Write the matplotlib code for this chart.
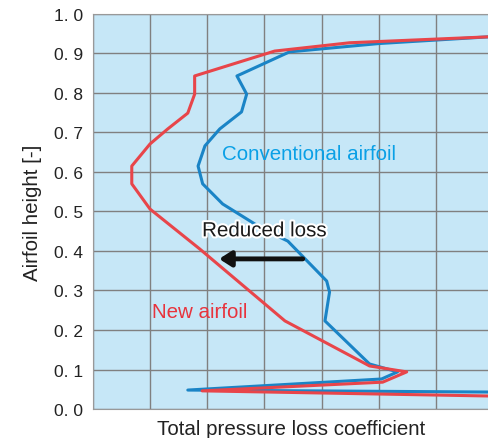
import matplotlib
matplotlib.use("Agg")
import matplotlib.pyplot as plt
import matplotlib.patheffects as pe

# new airfoil (red), read from top to bottom
new_x = [6.92, 4.49, 3.18, 1.78, 1.78, 1.66, 1.31, 1.00, 0.68, 0.68, 1.00, 1.87, 3.36, 4.84, 5.49, 5.07, 1.91, 6.92]
new_y = [0.942, 0.927, 0.906, 0.843, 0.797, 0.749, 0.709, 0.671, 0.615, 0.570, 0.506, 0.405, 0.223, 0.109, 0.094, 0.068, 0.046, 0.033]

# conventional airfoil (blue)
conv_x = [6.92, 5.00, 3.44, 2.52, 2.69, 2.60, 2.22, 1.96, 1.84, 1.92, 2.27, 2.97, 3.41, 4.09, 4.14, 4.06, 4.84, 5.33, 5.05, 1.66, 6.92]
conv_y = [0.942, 0.925, 0.904, 0.843, 0.797, 0.752, 0.709, 0.666, 0.615, 0.570, 0.519, 0.456, 0.425, 0.324, 0.296, 0.223, 0.114, 0.094, 0.076, 0.048, 0.043]

yticks = [0.0, 0.1, 0.2, 0.3, 0.4, 0.5, 0.6, 0.7, 0.8, 0.9, 1.0]
ytick_labels = ["0. 0", "0. 1", "0. 2", "0. 3", "0. 4", "0. 5", "0. 6", "0. 7", "0. 8", "0. 9", "1. 0"]

plt.rcParams['font.family'] = ['Liberation Sans', 'DejaVu Sans']

fig = plt.figure(figsize=(4.89, 4.39), dpi=100)
ax = fig.add_axes([0.190, 0.066, 0.810, 0.900])
ax.set_facecolor('#c6e7f7')

ax.plot(conv_x, conv_y, color='#1a84c6', lw=2.2, zorder=3)
ax.plot(new_x, new_y, color='#e8454a', lw=2.2, zorder=4)

ax.set_xlim(0, 6.93)
ax.set_ylim(0, 1.0)
ax.set_xticks(range(7))
ax.set_xticklabels([])
ax.set_yticks(yticks)
ax.set_yticklabels(ytick_labels, fontsize=12.5, color='#222222')
ax.tick_params(length=0, pad=7)
ax.grid(True, color='#808080', lw=1.0)
ax.set_axisbelow(True)
for s in ['left', 'top', 'bottom']:
    ax.spines[s].set_color('#999999')
ax.spines['right'].set_visible(False)

ax.set_xlabel("Total pressure loss coefficient", fontsize=14.8, color='#222222', labelpad=0)
ax.set_ylabel("Airfoil height [-]", fontsize=14.8, color='#222222', labelpad=9)

ax.text(2.26, 0.646, "Conventional airfoil", color='#0aa0e6', fontsize=14.8, va='center', zorder=5)
ax.text(1.03, 0.248, "New airfoil", color='#e8333c', fontsize=14.8, va='center', zorder=5)
ax.text(1.91, 0.451, "Reduced loss", color='#1a1a1a', fontsize=14.8, va='center', zorder=5,
        path_effects=[pe.withStroke(linewidth=3, foreground='white')])
ax.annotate("", xy=(2.16, 0.38), xytext=(3.72, 0.38),
            arrowprops=dict(arrowstyle='-|>,head_length=0.7,head_width=0.45', color='#111111', lw=3.5),
            zorder=6)

fig.savefig('out.png', dpi=100)
